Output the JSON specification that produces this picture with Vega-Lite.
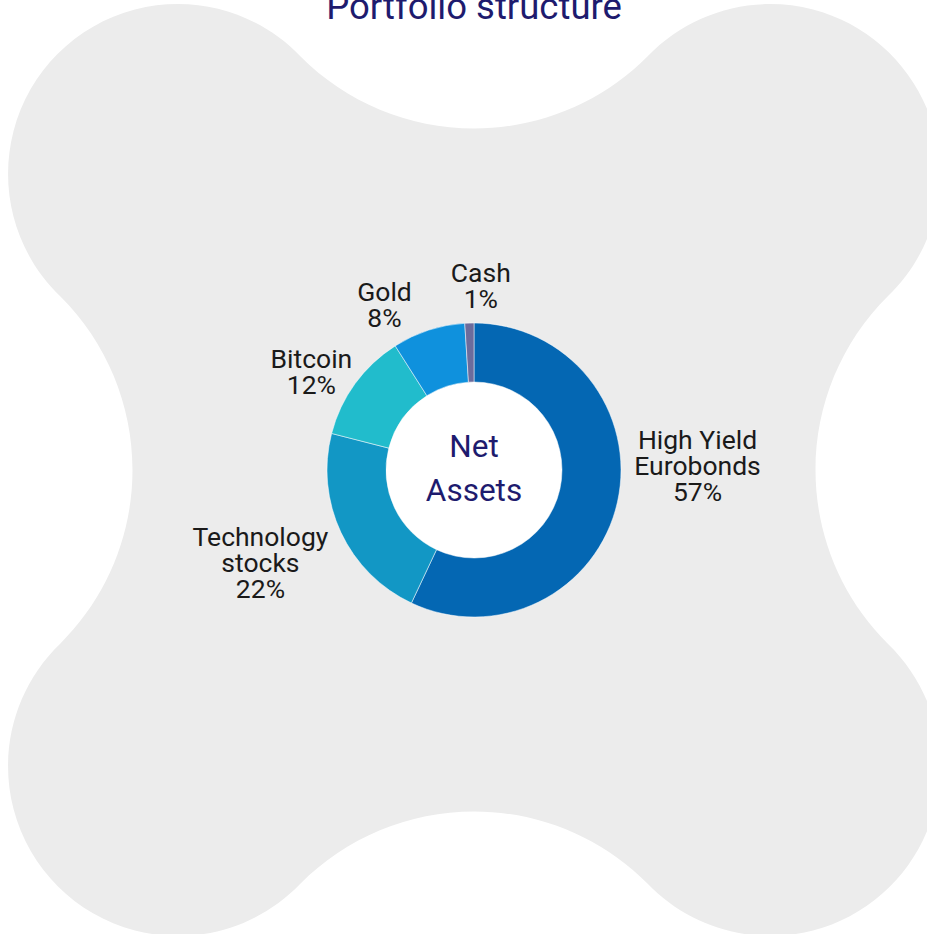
{
  "$schema": "https://vega.github.io/schema/vega-lite/v6.json",
  "width": 906,
  "height": 928,
  "autosize": {"type": "none"},
  "padding": {"left": 21, "top": 6, "right": 0, "bottom": 0},
  "background": "#ffffff",
  "view": {"stroke": null},
  "title": {
    "text": "Portfolio structure",
    "font": "Roboto",
    "fontSize": 36.5,
    "fontWeight": "normal",
    "color": "#1e1b6e",
    "anchor": "middle",
    "frame": "group",
    "offset": -22
  },
  "layer": [
    {
      "data": {"values": [{"part": "backdrop"}]},
      "mark": {
        "type": "point",
        "filled": true,
        "opacity": 1,
        "color": "#ececec",
        "strokeWidth": 0,
        "size": 861184,
        "shape": "M -0.3743 -0.8918 A 0.5275 0.5275 0 0 0 0.3743 -0.8918 A 0.366 0.366 0 1 1 0.8918 -0.3743 A 0.5275 0.5275 0 0 0 0.8918 0.3743 A 0.366 0.366 0 1 1 0.3743 0.8918 A 0.5275 0.5275 0 0 0 -0.3743 0.8918 A 0.366 0.366 0 1 1 -0.8918 0.3743 A 0.5275 0.5275 0 0 0 -0.8918 -0.3743 A 0.366 0.366 0 1 1 -0.3743 -0.8918 Z"
      },
      "encoding": {}
    },
    {
      "data": {"values": [{"part": "hole"}]},
      "mark": {
        "type": "point",
        "shape": "circle",
        "filled": true,
        "opacity": 1,
        "color": "#ffffff",
        "strokeWidth": 0,
        "size": 30976
      },
      "encoding": {}
    },
    {
      "data": {
        "values": [
          {"name": "High Yield\nEurobonds", "share": 57, "rank": 1},
          {"name": "Technology\nstocks", "share": 22, "rank": 2},
          {"name": "Bitcoin", "share": 12, "rank": 3},
          {"name": "Gold", "share": 8, "rank": 4},
          {"name": "Cash", "share": 1, "rank": 5}
        ]
      },
      "transform": [
        {"calculate": "datum.name + '\\n' + datum.share + '%'", "as": "label"}
      ],
      "encoding": {
        "theta": {"field": "share", "type": "quantitative", "stack": true},
        "order": {"field": "rank", "type": "quantitative"}
      },
      "layer": [
        {
          "mark": {
            "type": "arc",
            "innerRadius": 88,
            "outerRadius": 147,
            "stroke": "#ffffff",
            "strokeWidth": 0.5
          },
          "encoding": {
            "color": {
              "field": "name",
              "type": "nominal",
              "scale": {
                "domain": ["High Yield\nEurobonds", "Technology\nstocks", "Bitcoin", "Gold", "Cash"],
                "range": ["#0467b3", "#1297c5", "#21bccc", "#0f91dd", "#6c6c9c"]
              },
              "legend": null
            }
          }
        },
        {
          "mark": {
            "type": "text", "radius": 229, "dy": -79,
            "font": "Roboto", "fontSize": 26.5, "lineHeight": 26, "lineBreak": "\n",
            "align": "center", "baseline": "middle", "color": "#1a1a1a"
          },
          "encoding": {
            "text": {"condition": {"test": "datum.rank == 1", "field": "label", "type": "nominal"}, "value": ""}
          }
        },
        {
          "mark": {
            "type": "text", "radius": 236, "dy": -32,
            "font": "Roboto", "fontSize": 26.5, "lineHeight": 26, "lineBreak": "\n",
            "align": "center", "baseline": "middle", "color": "#1a1a1a"
          },
          "encoding": {
            "text": {"condition": {"test": "datum.rank == 2", "field": "label", "type": "nominal"}, "value": ""}
          }
        },
        {
          "mark": {
            "type": "text", "radius": 201, "dy": 8,
            "font": "Roboto", "fontSize": 26.5, "lineHeight": 26, "lineBreak": "\n",
            "align": "center", "baseline": "middle", "color": "#1a1a1a"
          },
          "encoding": {
            "text": {"condition": {"test": "datum.rank == 3", "field": "label", "type": "nominal"}, "value": ""}
          }
        },
        {
          "mark": {
            "type": "text", "radius": 186, "dx": -32,
            "font": "Roboto", "fontSize": 26.5, "lineHeight": 26, "lineBreak": "\n",
            "align": "center", "baseline": "middle", "color": "#1a1a1a"
          },
          "encoding": {
            "text": {"condition": {"test": "datum.rank == 4", "field": "label", "type": "nominal"}, "value": ""}
          }
        },
        {
          "mark": {
            "type": "text", "radius": 196, "dx": 13,
            "font": "Roboto", "fontSize": 26.5, "lineHeight": 26, "lineBreak": "\n",
            "align": "center", "baseline": "middle", "color": "#1a1a1a"
          },
          "encoding": {
            "text": {"condition": {"test": "datum.rank == 5", "field": "label", "type": "nominal"}, "value": ""}
          }
        }
      ]
    },
    {
      "data": {"values": [{"center": "Net\nAssets"}]},
      "mark": {
        "type": "text",
        "font": "Roboto",
        "fontSize": 31.5,
        "lineHeight": 44,
        "lineBreak": "\n",
        "align": "center",
        "baseline": "middle",
        "dy": -22,
        "color": "#1e1b6e"
      },
      "encoding": {
        "text": {"field": "center", "type": "nominal"}
      }
    }
  ]
}
